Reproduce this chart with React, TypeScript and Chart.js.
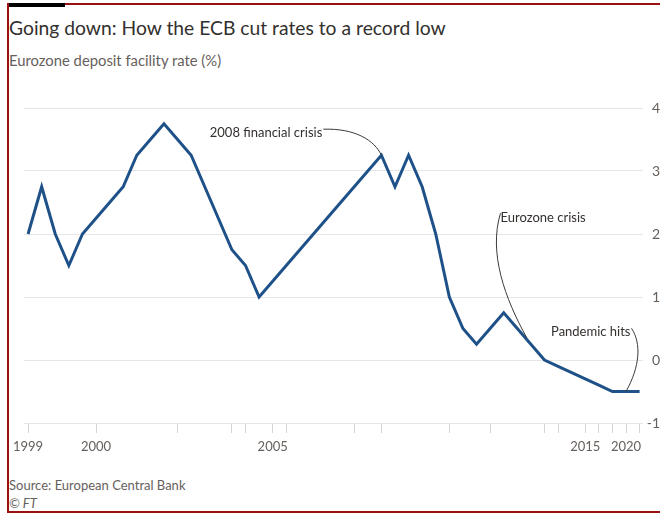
import React, { useEffect, useRef } from "react";
import { Chart, registerables } from "chart.js";

Chart.register(...registerables);

// Dates of each ECB deposit facility rate decision (category per change)
const dates: string[] = [
  "1999-01-01", "1999-01-04", "1999-01-22", "1999-04-09", "1999-11-05",
  "2000-02-04", "2000-03-17", "2000-04-28", "2000-06-09", "2000-09-01", "2000-10-06",
  "2001-05-11", "2001-08-31", "2001-09-18", "2001-11-09",
  "2002-12-06", "2003-03-07", "2003-06-06",
  "2005-12-06", "2006-03-08", "2006-06-15", "2006-08-09", "2006-10-11", "2006-12-13",
  "2007-03-14", "2007-06-13",
  "2008-07-09", "2008-10-08", "2008-10-09", "2008-11-12", "2008-12-10",
  "2009-01-21", "2009-03-11", "2009-04-08",
  "2011-04-13", "2011-07-13", "2011-11-09", "2011-12-14",
  "2012-07-11", "2014-06-11", "2014-09-10", "2015-12-09", "2016-03-16",
  "2019-09-18", "2020-03-12", "2021-01-01",
];

// Deposit facility rate (%)
const rates: number[] = [
  2.0, 2.75, 2.0, 1.5, 2.0,
  2.25, 2.5, 2.75, 3.25, 3.5, 3.75,
  3.5, 3.25, 2.75, 2.25,
  1.75, 1.5, 1.0,
  1.25, 1.5, 1.75, 2.0, 2.25, 2.5,
  2.75, 3.0,
  3.25, 2.75, 3.25, 2.75, 2.0,
  1.0, 0.5, 0.25,
  0.5, 0.75, 0.5, 0.25,
  0.0, -0.1, -0.2, -0.3, -0.4,
  -0.5, -0.5, -0.5,
];

// Years whose tick carries a label
const labeledYears: string[] = ["1999", "2000", "2005", "2015", "2020"];

// Y-axis ticks
const yTicks: number[] = [-1, 0, 1, 2, 3, 4];

// Annotations: text anchor (index, value), target point on the line (index, value)
const annTexts: string[] = ["2008 financial crisis", "Eurozone crisis", "Pandemic hits"];
const annTextX: number[] = [21.65, 34.76, 44.33];
const annTextY: number[] = [3.6, 2.25, 0.44];
const annAlign: CanvasTextAlign[] = ["right", "left", "right"];
const annTargetX: number[] = [26, 36.7, 44];
const annTargetY: number[] = [3.25, 0.35, -0.5];

const years = dates.map((d) => d.slice(0, 4));
const tickIndices: number[] = years
  .map((y, i) => (i === 0 || years[i - 1] !== y ? i : -1))
  .filter((i) => i >= 0);

const FONT = "Lato, 'Noto Sans', sans-serif";
const TEXT = "#33302e";
const MUTED = "#66605c";
const GRID = "#e6e6e6";

// connector geometry (pixel offsets: start from text anchor, controls from start/end)
const connStart: [number, number][] = [[1, -4], [0, -5], [1, -4]];
const connC1: [number, number][] = [[32, -1], [-12, 40], [10, 15]];
const connC2: [number, number][] = [[-7, -15], [-22, -40], [14, -25]];

const annotationPlugin = {
  id: "ftAnnotations",
  afterDatasetsDraw(chart: any) {
    const { ctx, scales } = chart;
    const xs = scales.x;
    const ys = scales.y;
    ctx.save();
    ctx.font = `13px ${FONT}`;
    ctx.fillStyle = TEXT;
    ctx.textBaseline = "middle";
    annTexts.forEach((t, i) => {
      const tx = xs.getPixelForValue(annTextX[i]);
      const ty = ys.getPixelForValue(annTextY[i]);
      ctx.textAlign = annAlign[i];
      ctx.fillText(t, tx, ty);
      const sx = tx + connStart[i][0];
      const sy = ty + connStart[i][1];
      const ex = xs.getPixelForValue(annTargetX[i]);
      const ey = ys.getPixelForValue(annTargetY[i]);
      ctx.beginPath();
      ctx.moveTo(sx, sy);
      ctx.bezierCurveTo(
        sx + connC1[i][0], sy + connC1[i][1],
        ex + connC2[i][0], ey + connC2[i][1],
        ex, ey
      );
      ctx.strokeStyle = "#3a3a3a";
      ctx.lineWidth = 1;
      ctx.stroke();
    });
    ctx.restore();
  },
};

function RateChart() {
  const ref = useRef<HTMLCanvasElement | null>(null);
  useEffect(() => {
    if (!ref.current) return;
    const chart = new Chart(ref.current, {
      type: "line",
      data: {
        datasets: [
          {
            data: rates.map((v, i) => ({ x: i, y: v })),
            borderColor: "#1f5189",
            borderWidth: 3,
            pointRadius: 0,
            tension: 0,
            fill: false,
            borderJoinStyle: "miter",
          },
        ],
      },
      options: {
        animation: false,
        responsive: false,
        devicePixelRatio: 1,
        layout: { padding: { left: 24, top: 18, right: 0, bottom: 0 } },
        plugins: { legend: { display: false }, tooltip: { enabled: false }, title: { display: false } },
        scales: {
          x: {
            type: "linear",
            min: -0.3,
            max: 45.25,
            border: { display: false },
            grid: {
              drawOnChartArea: false,
              drawTicks: true,
              tickLength: 10,
              color: "#d4d4d4",
            },
            afterBuildTicks: (scale: any) => {
              scale.ticks = tickIndices.map((v) => ({ value: v }));
            },
            afterFit: (scale: any) => {
              scale.height = 47;
            },
            ticks: {
              autoSkip: false,
              maxRotation: 0,
              minRotation: 0,
              padding: 6,
              color: MUTED,
              font: { family: FONT, size: 13 },
              callback: (value: any) => {
                const y = years[Math.round(Number(value))];
                return labeledYears.includes(y) ? y : "";
              },
            },
          },
          y: {
            position: "right",
            min: -1,
            max: 4,
            border: { display: false },
            grid: { color: GRID, drawTicks: false, lineWidth: 1 },
            afterBuildTicks: (scale: any) => {
              scale.ticks = yTicks.map((v) => ({ value: v }));
            },
            afterFit: (scale: any) => {
              scale.width = 17;
            },
            ticks: {
              crossAlign: "far",
              padding: 4,
              color: MUTED,
              font: { family: FONT, size: 14 },
              callback: (v: any) => String(v),
            },
          },
        },
      },
      plugins: [annotationPlugin],
    } as any);
    return () => chart.destroy();
  }, []);
  return (
    <canvas
      ref={ref}
      width={660}
      height={380}
      style={{ position: "absolute", left: 0, top: 90, width: 660, height: 380 }}
    />
  );
}

export default function App() {
  return (
    <div
      style={{
        position: "fixed",
        left: 0,
        top: 0,
        width: 660,
        height: 515,
        overflow: "hidden",
        background: "#ffffff",
        fontFamily: FONT,
      }}
    >
      <div
        style={{
          position: "absolute",
          left: 7,
          top: 3,
          width: 680,
          height: 506,
          borderLeft: "2px solid #9b1010",
          borderTop: "2px solid #9b1010",
          borderBottom: "2px solid #9b1010",
        }}
      />
      <div style={{ position: "absolute", left: 9, top: 3, width: 56, height: 4, background: "#000" }} />
      <div
        style={{
          position: "absolute",
          left: 9,
          top: 18,
          fontSize: 19.3,
          lineHeight: "20px",
          color: TEXT,
          whiteSpace: "nowrap",
        }}
      >
        Going down: How the ECB cut rates to a record low
      </div>
      <div
        style={{
          position: "absolute",
          left: 9,
          top: 53,
          fontSize: 14.8,
          lineHeight: "15px",
          color: MUTED,
          whiteSpace: "nowrap",
        }}
      >
        Eurozone deposit facility rate (%)
      </div>
      <RateChart />
      <div
        style={{
          position: "absolute",
          left: 9,
          top: 479,
          fontSize: 13,
          lineHeight: "13px",
          color: MUTED,
          whiteSpace: "nowrap",
        }}
      >
        Source: European Central Bank
      </div>
      <div
        style={{
          position: "absolute",
          left: 9,
          top: 497,
          fontSize: 13,
          lineHeight: "13px",
          color: MUTED,
          fontStyle: "italic",
          whiteSpace: "nowrap",
        }}
      >
        © FT
      </div>
    </div>
  );
}
